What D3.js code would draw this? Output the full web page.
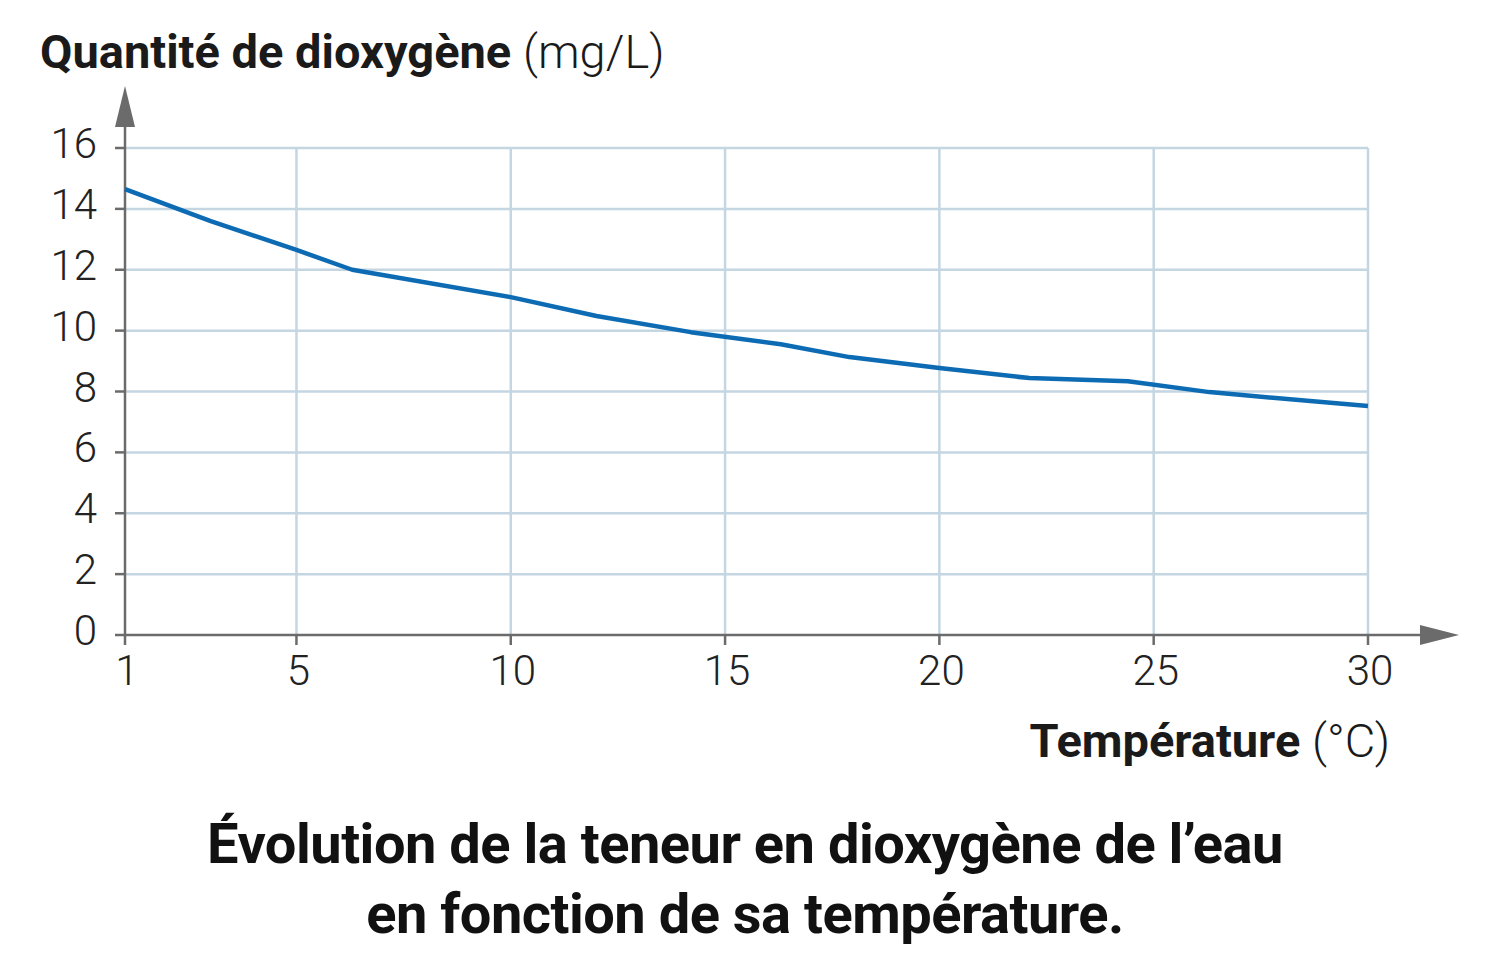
<!DOCTYPE html>
<html><head><meta charset="utf-8">
<script src="https://cdn.jsdelivr.net/npm/d3@7"></script>
<style>body{margin:0;background:#fff}svg{display:block}</style>
</head><body>
<script>
var temperatures = [1, 3, 5, 6.3, 10, 12, 14.2, 16.3, 17.9, 20, 22.1, 24.4, 26.3, 30]
var oxygen = [14.65, 13.6, 12.65, 12.0, 11.1, 10.48, 9.95, 9.55, 9.13, 8.77, 8.44, 8.34, 7.98, 7.52]
var xTicks = [1, 5, 10, 15, 20, 25, 30]
var yTicks = [0, 2, 4, 6, 8, 10, 12, 14, 16]

var W = 1500, H = 969
var svg = d3.select('body').append('svg').attr('width', W).attr('height', H)
  , font = 'Roboto, "DejaVu Sans Condensed", sans-serif'
  , x = d3.scaleLinear().domain([1, 30]).range([125, 1368])
  , y = d3.scaleLinear().domain([0, 16]).range([635, 148])

// grid
svg.append('g').selectAll('line').data(yTicks.slice(1)).enter().append('line')
  .attr('x1', x(1)).attr('x2', x(30)).attr('y1', y).attr('y2', y)
  .attr('stroke', '#c4d6e2').attr('stroke-width', 2.5)
svg.append('g').selectAll('line').data(xTicks.slice(1)).enter().append('line')
  .attr('x1', x).attr('x2', x).attr('y1', y(0)).attr('y2', y(16))
  .attr('stroke', '#c4d6e2').attr('stroke-width', 2.5)

// axes
var ax = '#6b6b6b'
svg.append('line').attr('x1', x(1)).attr('x2', 1425).attr('y1', y(0)).attr('y2', y(0)).attr('stroke', ax).attr('stroke-width', 2.5)
svg.append('line').attr('x1', x(1)).attr('x2', x(1)).attr('y1', y(0)).attr('y2', 120).attr('stroke', ax).attr('stroke-width', 2.5)
svg.append('path').attr('d', 'M1420,625 L1459,635 L1420,645 Z').attr('fill', ax)
svg.append('path').attr('d', 'M115,127 L125,86 L135,127 Z').attr('fill', ax)
svg.append('g').selectAll('line').data(yTicks).enter().append('line')
  .attr('x1', x(1) - 10).attr('x2', x(1)).attr('y1', y).attr('y2', y).attr('stroke', ax).attr('stroke-width', 2.5)
svg.append('g').selectAll('line').data(xTicks).enter().append('line')
  .attr('x1', x).attr('x2', x).attr('y1', y(0)).attr('y2', y(0) + 10).attr('stroke', ax).attr('stroke-width', 2.5)

// tick labels
svg.append('g').selectAll('text').data(yTicks).enter().append('text')
  .attr('x', 97).attr('y', function (d) { return y(d) + 10 })
  .attr('text-anchor', 'end').attr('font-family', font).attr('font-weight', 300)
  .attr('font-size', 42).attr('fill', '#222').text(function (d) { return d })
svg.append('g').selectAll('text').data(xTicks).enter().append('text')
  .attr('x', function (d) { return x(d) + 2 }).attr('y', 685)
  .attr('text-anchor', 'middle').attr('font-family', font).attr('font-weight', 300)
  .attr('font-size', 42).attr('fill', '#222').text(function (d) { return d })

// line
svg.append('path')
  .datum(d3.zip(temperatures, oxygen))
  .attr('d', d3.line().x(function (d) { return x(d[0]) }).y(function (d) { return y(d[1]) }))
  .attr('fill', 'none').attr('stroke', '#0d6bb4').attr('stroke-width', 4.5).attr('stroke-linejoin', 'round')

// titles
var t1 = svg.append('text').attr('x', 40).attr('y', 68).attr('font-family', font).attr('font-size', 47).attr('fill', '#1a1a1a')
t1.append('tspan').attr('font-weight', 700).attr('letter-spacing', 0).text('Quantité de dioxygène ')
t1.append('tspan').attr('font-weight', 300).text('(mg/L)')
var t2 = svg.append('text').attr('x', 1390).attr('y', 757).attr('text-anchor', 'end').attr('font-family', font).attr('font-size', 47).attr('fill', '#1a1a1a')
t2.append('tspan').attr('font-weight', 700).attr('letter-spacing', 0).text('Température ')
t2.append('tspan').attr('font-weight', 300).text('(°C)')

svg.selectAll('text.cap').data(["Évolution de la teneur en dioxygène de l’eau", 'en fonction de sa température.'])
  .enter().append('text').attr('class', 'cap')
  .attr('x', 745).attr('y', function (d, i) { return 863 + i * 70 })
  .attr('text-anchor', 'middle').attr('font-family', font).attr('font-weight', 700)
  .attr('font-size', 56).attr('letter-spacing', -0.5).attr('fill', '#111').text(function (d) { return d })
</script>
</body></html>
